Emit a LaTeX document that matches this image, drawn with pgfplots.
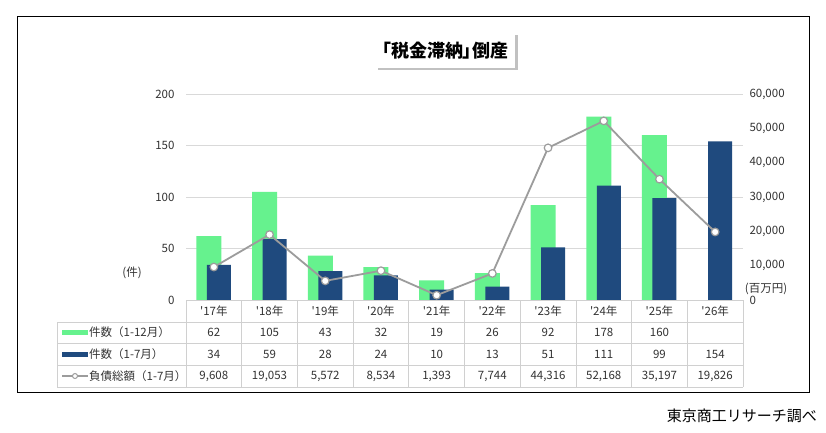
\documentclass[border=0pt]{standalone}
\usepackage{fontspec}
\newfontfamily\jp{Noto Sans CJK JP}
\newfontfamily\jpp{Noto Sans CJK JP}[RawFeature=+palt]
\usepackage{pgfplots}
\pgfplotsset{compat=1.18}
\usetikzlibrary{shadows}
\definecolor{cgreen}{HTML}{66F28E}
\definecolor{cblue}{HTML}{1F4A7E}
\definecolor{cline}{HTML}{9C9C9C}
\definecolor{cgrid}{HTML}{D9D9D9}
\definecolor{ctab}{HTML}{D0D0D0}
\definecolor{ctext}{HTML}{333333}
\begin{document}
\begin{tikzpicture}[x=1pt,y=1pt]
\useasboundingbox (0,0) rectangle (826,432);
\fill[white] (0,0) rectangle (826,432);
\draw[black, line width=1pt] (17,40) rectangle (809,415);

% title
\node[fill=white, minimum width=140pt, minimum height=35pt, inner sep=0pt,
      drop shadow={shadow xshift=2.5pt, shadow yshift=-2.5pt, opacity=0.4, fill=black!60}]
  at (445,381.5) {\jpp\bfseries\fontsize{18}{20}\selectfont 「税金滞納」倒産};

\begin{axis}[at={(186pt,132pt)}, anchor=south west, scale only axis,
  width=557pt, height=206pt,
  xmin=-0.5, xmax=9.5, ymin=0, ymax=200, ytick={0,50,...,200}, xtick=\empty,
  ymajorgrids, grid style={cgrid, line width=0.8pt},
  axis line style={draw=none}, tick style={draw=none},
  yticklabel style={font=\jp\fontsize{11.5}{12}\selectfont, text=ctext, xshift=-8pt},
  /pgf/number format/assume math mode=true, clip=false]
\addplot[ybar, bar width=25pt, bar shift=-5pt, fill=cgreen, draw=none] coordinates {
 (0,62) (1,105) (2,43) (3,32) (4,19) (5,26) (6,92) (7,178) (8,160)};
\addplot[ybar, bar width=24pt, bar shift=5pt, fill=cblue, draw=none] coordinates {
 (0,34) (1,59) (2,28) (3,24) (4,10) (5,13) (6,51) (7,111) (8,99) (9,154)};
\end{axis}

\begin{axis}[at={(186pt,132pt)}, anchor=south west, scale only axis,
  width=557pt, height=206pt,
  xmin=-0.5, xmax=9.5, ymin=0, ymax=60000, ytick={0,10000,...,60000}, xtick=\empty,
  axis y line*=right, axis x line=none,
  axis line style={draw=none}, tick style={draw=none},
  scaled y ticks=false, /pgf/number format/1000 sep={,},
  yticklabel style={font=\jp\fontsize{11.5}{12}\selectfont, text=ctext, xshift=3pt},
  /pgf/number format/assume math mode=true, clip=false]
\addplot[cline, line width=1.8pt, mark=*, mark size=3.8pt,
  mark options={fill=white, draw=cline, line width=1.2pt}] coordinates {
 (0,9608) (1,19053) (2,5572) (3,8534) (4,1393) (5,7744) (6,44316) (7,52168) (8,35197) (9,19826)};
\end{axis}

% axis unit labels
\node[text=ctext, font=\jp\fontsize{11.5}{12}\selectfont] at (132,159) {(件)};
\node[text=ctext, font=\jp\fontsize{11.5}{12}\selectfont] at (766,143) {(百万円)};

% table lines
\begin{scope}[ctab, line width=0.8pt]
\draw (186,132) -- (743,132);
\foreach \yy in {110,89,67,45} \draw (57,\yy) -- (743,\yy);
\draw (57,110) -- (57,45);
\foreach \k in {0,...,10} {\pgfmathsetmacro\xx{186+55.7*\k}\draw (\xx,132) -- (\xx,45);}
\end{scope}

% table text
\begin{scope}[every node/.style={text=ctext, font=\jp\fontsize{11.5}{12}\selectfont}]
\foreach \lab [count=\i from 0] in {'17年,'18年,'19年,'20年,'21年,'22年,'23年,'24年,'25年,'26年}
  {\pgfmathsetmacro\xx{186+55.7*(\i+0.5)}\node at (\xx,121) {\lab};}
\foreach \v [count=\i from 0] in {62,105,43,32,19,26,92,178,160,{}}
  {\pgfmathsetmacro\xx{186+55.7*(\i+0.5)}\node at (\xx,99.5) {\v};}
\foreach \v [count=\i from 0] in {34,59,28,24,10,13,51,111,99,154}
  {\pgfmathsetmacro\xx{186+55.7*(\i+0.5)}\node at (\xx,78) {\v};}
\foreach \v [count=\i from 0] in {{9,608},{19,053},{5,572},{8,534},{1,393},{7,744},{44,316},{52,168},{35,197},{19,826}}
  {\pgfmathsetmacro\xx{186+55.7*(\i+0.5)}\node at (\xx,56) {\v};}
\node[anchor=west, inner sep=0pt] at (89,99.5) {件数（1-12月）};
\node[anchor=west, inner sep=0pt] at (89,78) {件数（1-7月）};
\node[anchor=west, inner sep=0pt] at (89,56) {負債総額（1-7月）};
\end{scope}
% legend samples
\fill[cgreen] (62,97) rectangle (88,102);
\fill[cblue] (62,75.5) rectangle (88,80.5);
\draw[cline, line width=1.2pt] (62,56) -- (88,56);
\draw[cline, line width=1pt, fill=white] (75,56) circle (2.5);

% source
\node[anchor=east, font=\jp\fontsize{15}{16}\selectfont, inner sep=0pt] at (817,16) {東京商工リサーチ調べ};
\end{tikzpicture}
\end{document}
